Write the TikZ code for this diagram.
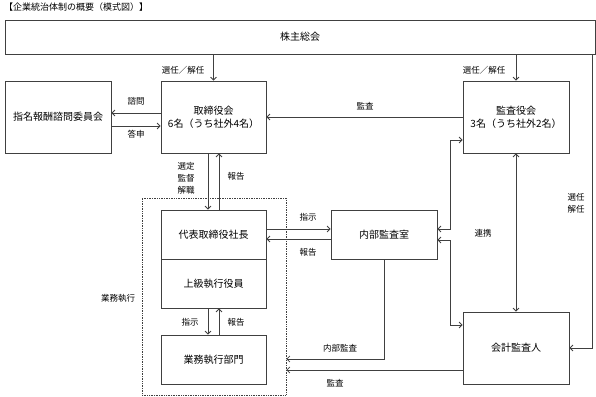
\documentclass[tikz,border=0pt]{standalone}
\usepackage{fontspec}
\setmainfont{Noto Sans CJK JP}
\usetikzlibrary{arrows.meta}

\begin{document}
\begin{tikzpicture}[
  x=1pt, y=-1pt,
  box/.style={draw=black!75, line width=0.8pt, align=center, font=\fontsize{10}{13}\selectfont, inner sep=0pt},
  lbl/.style={font=\fontsize{8.5}{12}\selectfont, align=center, inner sep=0pt},
  arr/.style={draw=black!75, line width=0.8pt, -{Straight Barb[length=3pt, width=6pt]}},
  darr/.style={draw=black!75, line width=0.8pt, {Straight Barb[length=3pt, width=6pt]}-{Straight Barb[length=3pt, width=6pt]}},
  execbox/.style={draw=black!75, line width=0.7pt, densely dotted, inner sep=0pt}
]
\useasboundingbox (0,0) rectangle (596,396);

% -------------------------
% Title
% -------------------------

\node[lbl, anchor=west, font=\fontsize{9}{11}\selectfont] (title) at (4,7) {【企業統治体制の概要（模式図）】};

% -------------------------
% Boxes
% -------------------------

\node[box, minimum width=590, minimum height=34] (agm) at (300,37) {株主総会};
\node[box, minimum width=106, minimum height=72] (nomi) at (58,117) {指名報酬諮問委員会};
\node[box, minimum width=105, minimum height=72] (board) at (213.5,117) {取締役会\\6名（うち社外4名）};
\node[box, minimum width=106, minimum height=72] (kansa) at (516,117) {監査役会\\3名（うち社外2名）};

\node[execbox, minimum width=144, minimum height=197] (exec) at (214,296.5) {};
\node[box, minimum width=105, minimum height=49] (rep) at (213.5,234.5) {代表取締役社長};
\node[box, minimum width=105, minimum height=49] (senior) at (213.5,283.5) {上級執行役員};
\node[box, minimum width=105, minimum height=49] (dept) at (213.5,359.5) {業務執行部門};

\node[box, minimum width=106, minimum height=49] (room) at (384,234.5) {内部監査室};
\node[box, minimum width=106, minimum height=72] (kaikei) at (516,348) {会計監査人};

% -------------------------
% Connectors
% -------------------------

\draw[arr] (agm.south -| board.north) -- (board.north);
\draw[arr] (agm.south -| kansa.north) -- (kansa.north);
\draw[arr] ([xshift=-3]agm.south east) |- (kaikei.east);

\draw[arr] ([yshift=4]board.west) -- ([yshift=4]nomi.east);
\draw[arr] ([yshift=-9]nomi.east) -- ([yshift=-9]board.west);
\draw[arr] (kansa.west) -- (board.east);

\draw[arr] ([xshift=-5.5]board.south) -- ([xshift=-5.5]rep.north);
\draw[arr] ([xshift=5.5]rep.north) -- ([xshift=5.5]board.south);
\draw[arr] ([xshift=-5.5]senior.south) -- ([xshift=-5.5]dept.north);
\draw[arr] ([xshift=5.5]dept.north) -- ([xshift=5.5]senior.south);

\draw[arr] ([yshift=5.5]rep.east) -- ([yshift=5.5]room.west);
\draw[arr] ([yshift=-4.5]room.west) -- ([yshift=-4.5]rep.east);

\draw[darr] ([yshift=5.5]room.east) -- ++(13,0) |- ([yshift=-23]kansa.west);
\draw[darr] ([yshift=-5.5]room.east) -- ++(13,0) |- ([yshift=23]kaikei.west);
\draw[darr] (kansa.south) -- (kaikei.north);

\draw[arr] (room.south) |- ([yshift=-62.5]exec.east);
\draw[arr] ([yshift=-22]kaikei.west) -- ([yshift=-22]kaikei.west -| exec.east);

% -------------------------
% Labels
% -------------------------

\node[lbl] at (183,70) {選任／解任};
\node[lbl] at (484,70) {選任／解任};
\node[lbl] at (576,203) {選任\\解任};
\node[lbl] at (136,101) {諮問};
\node[lbl] at (136,134) {答申};
\node[lbl] at (365,106) {監査};
\node[lbl, font=\fontsize{8.5}{12}\selectfont] at (186,178) {選定\\監督\\解職};
\node[lbl] at (236,176) {報告};
\node[lbl] at (308,217) {指示};
\node[lbl] at (308,252) {報告};
\node[lbl] at (483,233) {連携};
\node[lbl] at (118,298) {業務執行};
\node[lbl] at (190,322) {指示};
\node[lbl] at (236,322) {報告};
\node[lbl] at (340,348) {内部監査};
\node[lbl] at (335,383) {監査};

\end{tikzpicture}
\end{document}
